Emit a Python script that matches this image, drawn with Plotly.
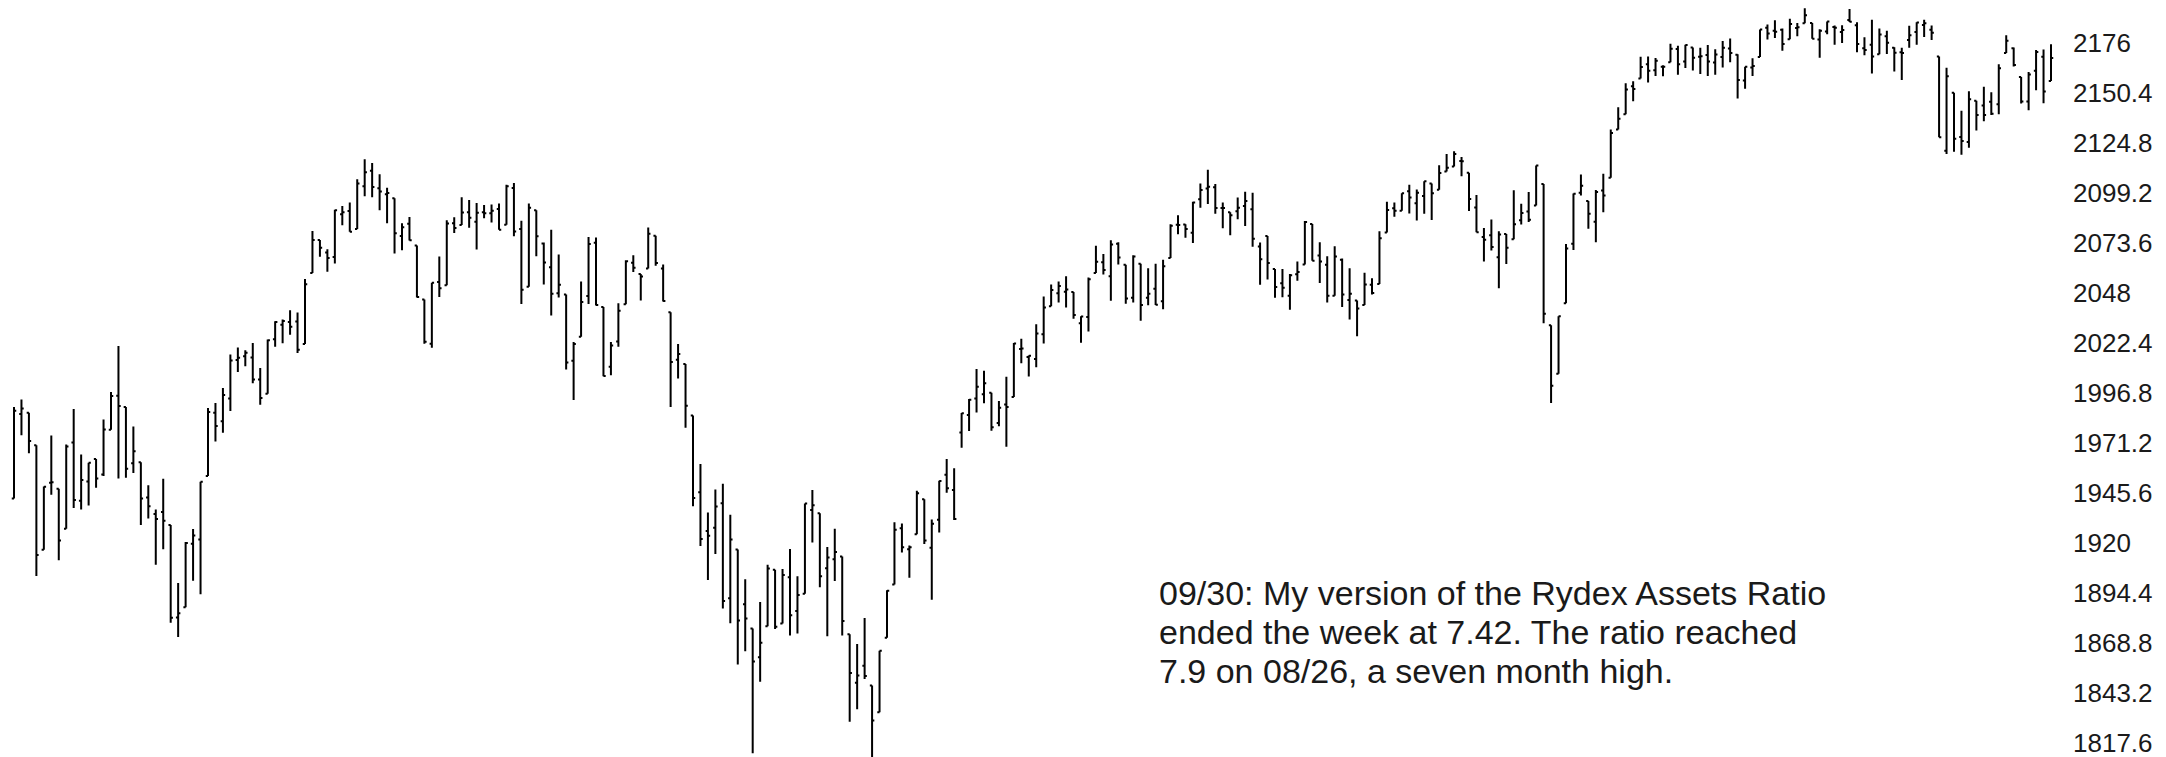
import plotly.graph_objects as go

# ---- data: S&P 500 daily bars, 2015-08-27 .. 2016-09-30 (as drawn) ----
dates = (
    ["2015-08-27", "2015-08-28", "2015-08-31"]
    + ["2015-09-%02d" % d for d in [1, 2, 3, 4, 8, 9, 10, 11, 14, 15, 16, 17, 18, 21, 22, 23, 24, 25, 28, 29, 30]]
    + ["2015-10-%02d" % d for d in [1, 2, 5, 6, 7, 8, 9, 12, 13, 14, 15, 16, 19, 20, 21, 22, 23, 26, 27, 28, 29, 30]]
    + ["2015-11-%02d" % d for d in [2, 3, 4, 5, 6, 9, 10, 11, 12, 13, 16, 17, 18, 19, 20, 23, 24, 25, 27, 30]]
    + ["2015-12-%02d" % d for d in [1, 2, 3, 4, 7, 8, 9, 10, 11, 14, 15, 16, 17, 18, 21, 22, 23, 24, 28, 29, 30, 31]]
    + ["2016-01-%02d" % d for d in [4, 5, 6, 7, 8, 11, 12, 13, 14, 15, 19, 20, 21, 22, 25, 26, 27, 28, 29]]
    + ["2016-02-%02d" % d for d in [1, 2, 3, 4, 5, 8, 9, 10, 11, 12, 16, 17, 18, 19, 22, 23, 24, 25, 26, 29]]
    + ["2016-03-%02d" % d for d in [2, 3, 4, 7, 8, 9, 10, 11, 14, 15, 16, 17, 18, 21, 22, 23, 24, 29, 30, 31]]
    + ["2016-04-%02d" % d for d in [1, 4, 5, 6, 7, 8, 11, 12, 13, 14, 15, 18, 19, 20, 21, 22, 25, 26, 27, 28, 29]]
    + ["2016-05-%02d" % d for d in [3, 4, 5, 6, 9, 10, 11, 12, 13, 16, 17, 18, 19, 20, 23, 24, 25, 26, 27, 31]]
    + ["2016-06-%02d" % d for d in [1, 2, 3, 6, 7, 8, 9, 10, 13, 14, 15, 16, 17, 20, 21, 22, 23, 24, 27, 28, 29, 30]]
    + ["2016-07-%02d" % d for d in [1, 5, 6, 7, 8, 11, 12, 13, 14, 15, 18, 19, 20, 21, 22, 25, 26, 27, 28, 29]]
    + ["2016-08-%02d" % d for d in [1, 2, 3, 4, 5, 8, 9, 10, 11, 12, 15, 16, 17, 18, 19, 22, 23, 24, 25, 26, 29, 30, 31]]
    + ["2016-09-%02d" % d for d in [1, 2, 6, 7, 8, 9, 12, 13, 14, 15, 16, 19, 20, 21, 22, 23, 26, 27, 28, 29, 30]]
)

opens = [
    1942.77, 1986.06, 1986.73,
    1970.09, 1916.52, 1950.79, 1947.76, 1927.30, 1971.45, 1941.59, 1951.45, 1963.06, 1955.10, 1978.02, 1995.33, 1989.66, 1960.84, 1961.39, 1943.24, 1934.81, 1935.93, 1929.18, 1881.90, 1887.14,
    1919.65, 1921.77, 1954.33, 1986.63, 1982.34, 1994.01, 2013.73, 2015.65, 2015.00, 2003.66, 1996.47, 2024.37, 2031.73, 2033.13, 2033.47, 2021.88, 2058.19, 2075.08, 2068.75, 2066.48, 2088.35, 2090.00,
    2080.76, 2102.63, 2110.60, 2101.68, 2098.60, 2096.56, 2077.19, 2083.41, 2072.29, 2044.64, 2022.08, 2053.67, 2051.99, 2083.70, 2082.82, 2089.41, 2084.42, 2089.30, 2088.82, 2090.95,
    2082.93, 2101.71, 2080.71, 2051.24, 2090.42, 2073.39, 2061.17, 2047.93, 2047.27, 2013.37, 2025.55, 2046.50, 2073.76, 2040.81, 2010.27, 2023.15, 2042.20, 2063.52, 2057.77, 2060.54, 2077.34, 2060.59,
    2038.20, 2013.78, 2011.71, 1985.32, 1945.97, 1926.12, 1927.83, 1940.34, 1891.68, 1916.68, 1888.66, 1876.18, 1861.46, 1877.40, 1906.28, 1878.79, 1902.52, 1885.22, 1894.00,
    1936.94, 1935.26, 1907.07, 1911.67, 1913.07, 1873.25, 1848.46, 1857.10, 1847.00, 1833.40, 1871.44, 1898.80, 1927.57, 1916.74, 1924.44, 1942.38, 1917.56, 1931.87, 1954.95, 1947.13,
    1976.60, 1985.60, 1994.01, 1996.11, 1996.88, 1981.44, 1990.97, 1994.71, 2019.27, 2015.27, 2014.24, 2026.90, 2041.16, 2047.88, 2048.64, 2048.55, 2032.48, 2035.75, 2058.27, 2063.77,
    2056.62, 2073.19, 2062.50, 2045.56, 2063.01, 2045.54, 2050.23, 2043.72, 2065.92, 2082.89, 2083.10, 2078.83, 2096.05, 2101.52, 2102.09, 2091.49, 2089.37, 2089.84, 2092.57, 2090.93, 2071.82,
    2077.18, 2060.30, 2052.95, 2046.61, 2057.55, 2062.63, 2083.29, 2067.17, 2062.50, 2046.53, 2065.04, 2044.38, 2044.21, 2041.88, 2052.23, 2052.65, 2078.93, 2091.44, 2090.06, 2100.13,
    2093.94, 2097.71, 2104.07, 2100.83, 2110.18, 2112.71, 2115.65, 2109.57, 2091.75, 2076.65, 2077.60, 2066.36, 2078.20, 2075.58, 2085.19, 2089.75, 2092.80, 2103.81, 2031.45, 2006.67, 2042.69, 2073.17,
    2099.34, 2095.05, 2084.43, 2100.42, 2106.97, 2131.72, 2139.50, 2153.81, 2157.88, 2165.13, 2162.04, 2163.79, 2166.10, 2172.91, 2166.47, 2173.71, 2168.97, 2169.81, 2166.05, 2168.83,
    2173.15, 2169.94, 2156.81, 2163.51, 2168.79, 2183.76, 2182.24, 2182.81, 2177.97, 2183.74, 2186.08, 2186.24, 2177.84, 2181.90, 2184.24, 2181.58, 2187.81, 2185.09, 2173.29, 2175.10, 2170.19, 2179.45, 2173.56,
    2171.33, 2177.49, 2181.61, 2185.17, 2182.76, 2169.08, 2120.86, 2150.47, 2127.86, 2125.36, 2146.48, 2143.99, 2145.94, 2144.58, 2170.94, 2173.29, 2158.54, 2146.04, 2161.85, 2168.90, 2156.51,
]

highs = [
    1989.60, 1993.48, 1986.73,
    1970.09, 1948.91, 1975.01, 1947.76, 1970.42, 1988.63, 1965.29, 1961.05, 1963.06, 1983.19, 1997.26, 2020.86, 1989.66, 1979.64, 1961.39, 1949.52, 1937.17, 1952.89, 1929.18, 1899.48, 1920.53,
    1927.21, 1951.36, 1989.17, 1991.62, 1999.31, 2016.50, 2020.13, 2018.66, 2022.34, 2009.56, 2024.15, 2033.54, 2034.45, 2039.12, 2037.97, 2055.20, 2079.74, 2075.14, 2070.37, 2090.60, 2092.52, 2094.32,
    2106.20, 2116.48, 2114.59, 2108.78, 2101.91, 2096.56, 2083.67, 2086.94, 2072.29, 2044.64, 2053.22, 2066.69, 2085.31, 2086.74, 2097.06, 2095.61, 2094.12, 2093.00, 2093.29, 2093.81,
    2103.37, 2104.27, 2085.00, 2093.84, 2090.42, 2073.85, 2080.33, 2067.65, 2047.27, 2022.92, 2053.87, 2076.72, 2076.37, 2040.81, 2022.90, 2042.74, 2064.73, 2067.36, 2057.77, 2081.56, 2077.34, 2062.54,
    2038.20, 2021.94, 2011.71, 1985.32, 1960.40, 1935.65, 1947.38, 1950.33, 1934.47, 1916.68, 1901.44, 1876.18, 1889.85, 1908.85, 1906.28, 1906.73, 1916.99, 1902.96, 1940.24,
    1947.20, 1935.26, 1918.01, 1927.35, 1913.07, 1873.25, 1868.25, 1881.60, 1847.00, 1864.78, 1895.77, 1930.68, 1930.00, 1918.78, 1946.70, 1942.38, 1932.08, 1951.83, 1962.96, 1958.27,
    1986.51, 1993.69, 2009.13, 2008.16, 1996.88, 1992.69, 2005.08, 2022.37, 2024.57, 2015.94, 2032.02, 2046.24, 2052.36, 2053.91, 2056.60, 2048.55, 2036.04, 2055.91, 2072.21, 2067.92,
    2075.07, 2074.02, 2062.50, 2067.33, 2063.01, 2060.63, 2062.93, 2065.05, 2083.18, 2087.84, 2083.22, 2094.66, 2104.05, 2111.05, 2103.78, 2094.32, 2089.37, 2096.87, 2099.89, 2099.30, 2073.85,
    2077.18, 2060.30, 2060.23, 2057.72, 2064.15, 2084.87, 2083.29, 2073.99, 2066.79, 2071.88, 2065.69, 2060.61, 2044.21, 2058.35, 2055.58, 2079.67, 2094.73, 2094.30, 2099.06, 2103.48,
    2100.97, 2105.26, 2104.07, 2113.36, 2119.22, 2120.55, 2117.64, 2109.57, 2098.12, 2081.30, 2085.65, 2079.62, 2078.20, 2100.66, 2093.66, 2099.71, 2113.32, 2103.81, 2031.45, 2036.09, 2073.13, 2098.94,
    2108.71, 2095.05, 2100.72, 2109.08, 2131.71, 2143.16, 2155.40, 2156.45, 2168.99, 2169.05, 2168.35, 2164.63, 2175.63, 2174.56, 2175.11, 2173.71, 2173.54, 2174.98, 2172.85, 2177.09,
    2178.29, 2170.20, 2163.79, 2168.19, 2182.87, 2185.44, 2187.66, 2183.41, 2188.45, 2186.28, 2193.81, 2186.24, 2183.08, 2187.03, 2185.00, 2185.15, 2193.42, 2186.66, 2179.00, 2187.94, 2183.48, 2182.27, 2173.79,
    2173.56, 2184.87, 2186.57, 2187.87, 2184.94, 2169.08, 2163.30, 2150.47, 2141.33, 2151.31, 2146.48, 2153.61, 2150.80, 2165.11, 2179.99, 2173.75, 2158.54, 2161.13, 2172.40, 2172.67, 2175.30,
]

lows = [
    1942.77, 1975.19, 1965.98,
    1903.07, 1916.52, 1944.72, 1911.21, 1927.30, 1937.88, 1937.19, 1939.19, 1948.27, 1954.30, 1977.93, 1953.03, 1953.45, 1955.80, 1929.22, 1932.57, 1908.92, 1916.83, 1879.21, 1871.91, 1887.14,
    1900.70, 1893.70, 1954.33, 1971.99, 1976.44, 1987.53, 2007.61, 2010.55, 2001.78, 1990.73, 1996.47, 2020.46, 2022.31, 2026.61, 2017.22, 2021.88, 2058.19, 2066.53, 2058.84, 2063.11, 2082.63, 2079.34,
    2080.76, 2097.51, 2096.98, 2090.41, 2083.74, 2068.24, 2069.91, 2074.85, 2045.66, 2022.02, 2019.94, 2045.90, 2051.99, 2078.76, 2082.82, 2081.39, 2070.29, 2086.30, 2084.13, 2080.41,
    2082.93, 2077.11, 2042.35, 2051.24, 2066.78, 2052.32, 2036.53, 2045.67, 2008.80, 1993.26, 2025.55, 2042.43, 2041.66, 2005.33, 2005.93, 2020.49, 2042.20, 2058.73, 2044.20, 2060.54, 2061.97, 2043.62,
    1989.68, 2004.17, 1979.05, 1938.83, 1918.46, 1901.10, 1914.35, 1886.41, 1878.93, 1857.83, 1864.60, 1812.29, 1848.98, 1877.40, 1875.97, 1878.79, 1872.70, 1873.65, 1894.00,
    1920.30, 1897.29, 1872.23, 1900.52, 1872.65, 1828.46, 1834.94, 1850.32, 1810.10, 1833.40, 1871.44, 1898.80, 1915.09, 1902.17, 1924.44, 1919.44, 1891.00, 1925.41, 1945.78, 1931.81,
    1968.80, 1977.37, 1986.77, 1991.58, 1977.43, 1979.84, 1969.25, 1994.71, 2012.05, 2005.23, 2010.04, 2022.16, 2041.16, 2043.14, 2040.57, 2034.86, 2022.49, 2028.31, 2058.27, 2057.46,
    2043.98, 2062.57, 2042.56, 2043.09, 2033.80, 2041.69, 2041.88, 2039.74, 2065.92, 2078.13, 2076.31, 2073.65, 2091.68, 2093.62, 2088.52, 2081.20, 2077.52, 2085.80, 2082.31, 2071.62, 2052.28,
    2054.89, 2045.55, 2045.77, 2039.45, 2054.31, 2062.63, 2064.46, 2053.13, 2043.13, 2046.53, 2040.82, 2034.49, 2025.91, 2041.88, 2047.26, 2052.65, 2078.93, 2087.08, 2090.06, 2088.66,
    2085.10, 2088.59, 2085.36, 2100.83, 2110.18, 2112.71, 2107.73, 2089.96, 2079.06, 2064.10, 2069.80, 2050.37, 2062.84, 2075.58, 2083.02, 2084.36, 2092.80, 2032.57, 1991.68, 2006.67, 2042.69, 2070.00,
    2097.90, 2080.86, 2074.02, 2089.39, 2106.97, 2131.72, 2139.50, 2146.21, 2157.88, 2155.79, 2159.07, 2159.01, 2166.10, 2159.75, 2163.24, 2161.95, 2160.18, 2159.07, 2159.74, 2163.49,
    2166.21, 2147.58, 2152.56, 2159.07, 2168.79, 2177.85, 2178.61, 2172.00, 2177.97, 2179.42, 2186.08, 2178.14, 2168.50, 2180.46, 2175.13, 2175.96, 2186.80, 2171.25, 2169.74, 2160.39, 2170.19, 2170.41, 2161.35,
    2157.09, 2173.59, 2175.10, 2179.07, 2177.49, 2127.81, 2119.12, 2120.27, 2118.81, 2122.36, 2131.20, 2135.91, 2139.17, 2139.57, 2170.94, 2163.97, 2145.04, 2141.55, 2151.79, 2145.20, 2156.51,
]

closes = [
    1987.66, 1988.87, 1972.18,
    1913.85, 1948.86, 1951.13, 1921.22, 1969.41, 1942.04, 1952.29, 1961.05, 1953.03, 1978.09, 1995.31, 1990.20, 1958.03, 1966.97, 1942.74, 1938.76, 1932.24, 1931.34, 1881.77, 1884.09, 1920.03,
    1923.82, 1951.36, 1987.05, 1979.92, 1995.83, 2013.43, 2014.89, 2017.46, 2003.69, 1994.24, 2023.86, 2033.11, 2033.66, 2030.77, 2018.94, 2052.51, 2075.15, 2071.18, 2065.89, 2090.35, 2089.41, 2079.36,
    2104.05, 2109.79, 2102.31, 2099.93, 2099.20, 2078.58, 2081.72, 2075.00, 2045.97, 2023.04, 2053.19, 2050.44, 2083.58, 2081.24, 2089.17, 2086.59, 2089.14, 2088.87, 2090.11, 2080.41,
    2102.63, 2079.51, 2049.62, 2091.69, 2077.07, 2063.59, 2047.62, 2052.23, 2012.37, 2021.94, 2043.41, 2073.07, 2041.89, 2005.55, 2021.15, 2038.97, 2064.29, 2060.99, 2056.50, 2078.36, 2063.36, 2043.94,
    2012.66, 2016.71, 1990.26, 1943.09, 1922.03, 1923.67, 1938.68, 1890.28, 1921.84, 1880.33, 1881.33, 1859.33, 1868.99, 1906.90, 1877.08, 1903.63, 1882.95, 1893.36, 1940.24,
    1939.38, 1903.03, 1912.53, 1915.45, 1880.05, 1853.44, 1852.21, 1851.86, 1829.08, 1864.78, 1895.58, 1926.82, 1917.83, 1917.78, 1945.50, 1921.27, 1929.80, 1951.70, 1948.05, 1932.23,
    1986.45, 1993.40, 1999.99, 2001.76, 1979.26, 1989.26, 1989.57, 2022.19, 2019.64, 2015.93, 2027.22, 2040.59, 2049.58, 2051.60, 2049.80, 2036.71, 2035.94, 2055.01, 2063.95, 2059.74,
    2072.78, 2066.13, 2045.17, 2066.66, 2041.91, 2047.60, 2041.99, 2061.72, 2082.42, 2082.78, 2080.73, 2094.34, 2100.80, 2102.40, 2091.48, 2091.58, 2087.79, 2091.70, 2095.15, 2075.81, 2065.30,
    2063.37, 2051.12, 2050.63, 2057.14, 2058.69, 2084.39, 2064.46, 2064.11, 2046.61, 2066.66, 2047.21, 2047.63, 2040.04, 2052.32, 2048.04, 2076.06, 2090.54, 2090.10, 2099.06, 2096.95,
    2099.33, 2105.26, 2099.13, 2109.41, 2112.13, 2119.12, 2115.48, 2096.07, 2079.06, 2075.32, 2071.50, 2077.99, 2071.22, 2083.25, 2088.90, 2085.45, 2113.32, 2037.41, 2000.54, 2036.09, 2070.77, 2098.86,
    2102.95, 2088.55, 2099.73, 2097.90, 2129.90, 2137.16, 2152.14, 2152.43, 2163.75, 2161.74, 2166.89, 2163.78, 2173.02, 2165.17, 2175.03, 2168.48, 2169.18, 2166.58, 2170.06, 2173.60,
    2170.84, 2157.03, 2163.79, 2164.25, 2182.87, 2180.89, 2181.74, 2175.49, 2185.79, 2184.05, 2190.15, 2178.15, 2182.22, 2187.02, 2183.87, 2182.64, 2186.90, 2175.44, 2172.47, 2169.04, 2180.38, 2176.12, 2170.95,
    2170.86, 2179.98, 2186.48, 2186.16, 2181.30, 2127.81, 2159.04, 2127.02, 2125.77, 2147.26, 2139.16, 2139.12, 2139.76, 2163.12, 2177.18, 2164.69, 2146.10, 2159.93, 2171.37, 2151.13, 2168.27,
]

tick_values = [1817.6, 1843.2, 1868.8, 1894.4, 1920.0, 1945.6, 1971.2, 1996.8,
               2022.4, 2048.0, 2073.6, 2099.2, 2124.8, 2150.4, 2176.0]
tick_labels = ["1817.6", "1843.2", "1868.8", "1894.4", "1920", "1945.6", "1971.2", "1996.8",
               "2022.4", "2048", "2073.6", "2099.2", "2124.8", "2150.4", "2176"]

note_lines = [
    "09/30: My version of the Rydex Assets Ratio",
    "ended the week at 7.42. The ratio reached",
    "7.9 on 08/26, a seven month high.",
]

# ---- figure ----
W, H = 2166, 757
PLOT_R = 2068          # right edge of plotting area (px)
FIRST_X, LAST_X = 14, 2051
n = len(dates)
step = (LAST_X - FIRST_X) / (n - 1)
x_lo = -FIRST_X / step
x_hi = (PLOT_R - FIRST_X) / step

bar_style = dict(line=dict(color="#000000", width=2))
fig = go.Figure(go.Ohlc(
    x=dates, open=opens, high=highs, low=lows, close=closes,
    increasing=bar_style, decreasing=bar_style, tickwidth=0.3,
    showlegend=False, hoverinfo="skip",
))

fig.update_layout(
    width=W, height=H,
    margin=dict(l=0, r=W - PLOT_R, t=0, b=0),
    paper_bgcolor="white", plot_bgcolor="white",
    font=dict(family="Liberation Sans, Arial, sans-serif", color="#1a1a1a"),
    xaxis=dict(type="category", range=[x_lo, x_hi], showticklabels=False,
               showgrid=False, zeroline=False, showline=False, ticks="",
               rangeslider=dict(visible=False)),
    yaxis=dict(side="right", range=[1810.43, 2198.02], tickvals=tick_values,
               ticktext=tick_labels, showgrid=False, zeroline=False,
               showline=False, ticks="", ticklabelstandoff=4,
               ticklabeloverflow="allow",
               tickfont=dict(size=26, color="#1a1a1a")),
)

line_y_px = [593, 632, 671]
for txt, ypx in zip(note_lines, line_y_px):
    fig.add_annotation(text=txt, xref="paper", yref="paper",
                       x=1157 / PLOT_R, y=1 - ypx / H, xanchor="left", yanchor="middle",
                       showarrow=False,
                       font=dict(family="Liberation Sans, Arial, sans-serif",
                                 size=34, color="#1a1a1a"))

fig.write_html(
    "out.html",
    config={"displayModeBar": False, "staticPlot": True},
    post_script="document.body.style.margin='0px';document.body.style.overflow='hidden';",
)
